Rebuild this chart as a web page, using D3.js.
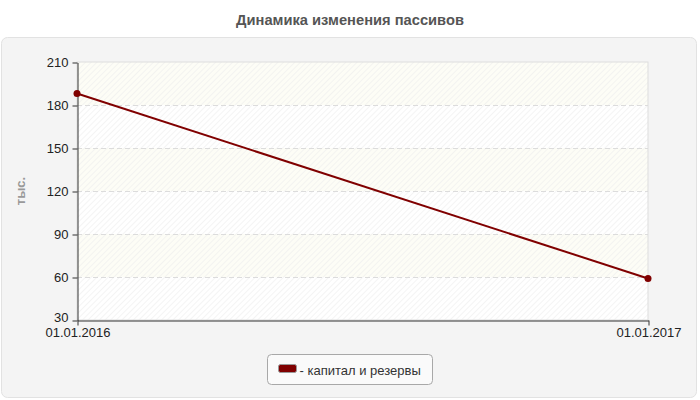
<!DOCTYPE html>
<html>
<head>
<meta charset="utf-8">
<script src="https://cdn.jsdelivr.net/npm/d3@7"></script>
<style>
  body { margin: 0; background: #fff; }
  svg { display: block; font-family: Arial, "Liberation Sans", sans-serif; }
</style>
</head>
<body>
<div class="chart"></div>
<script>
// chart data
var dates = ["01.01.2016", "01.01.2017"];
var capital = [188, 59];
var yTicks = [30, 60, 90, 120, 150, 180, 210];
var seriesName = "капитал и резервы";

var width = 700, height = 400;
var margin = { left: 77, right: 52, top: 62, bottom: 80 };

function drawGraph() {
    var svg = d3.select('.chart')
        .append('svg')
        .attr('width', width)
        .attr('height', height);

    // diagonal hatch for the plot background
    var defs = svg.append('defs');
    var pat = defs.append('pattern')
        .attr('id', 'hatch')
        .attr('width', 4).attr('height', 4)
        .attr('patternUnits', 'userSpaceOnUse')
        .attr('patternTransform', 'rotate(45)');
    pat.append('line')
        .attr('x1', 0).attr('y1', 0).attr('x2', 0).attr('y2', 4)
        .attr('stroke', '#ececec').attr('stroke-width', 1.2);

    // title
    svg.append('text')
        .attr('x', width / 2).attr('y', 25)
        .attr('text-anchor', 'middle')
        .style('font-size', '14.7px')
        .style('font-weight', 'bold')
        .style('fill', '#555')
        .text('Динамика изменения пассивов');

    // grey panel
    svg.append('rect')
        .attr('x', 1.5).attr('y', 37.5)
        .attr('width', 695).attr('height', 360)
        .attr('rx', 6)
        .attr('fill', '#f4f4f4')
        .attr('stroke', '#e2e2e2');

    var x = d3.scalePoint()
        .domain(dates)
        .range([margin.left, width - margin.right]);

    var y = d3.scaleLinear()
        .domain([30, 210])
        .range([height - margin.bottom, margin.top]);

    // alternating bands
    var bands = d3.pairs(yTicks);
    svg.selectAll('.band')
        .data(bands)
        .enter()
        .append('rect')
        .attr('x', margin.left)
        .attr('y', function(d) { return y(d[1]); })
        .attr('width', x.range()[1] - margin.left)
        .attr('height', function(d) { return y(d[0]) - y(d[1]); })
        .attr('fill', function(d, i) { return i % 2 ? '#fdfdf6' : '#ffffff'; });

    svg.append('rect')
        .attr('x', margin.left).attr('y', margin.top)
        .attr('width', x.range()[1] - margin.left)
        .attr('height', y(30) - y(210))
        .attr('fill', 'url(#hatch)')
        .attr('stroke', '#dddddd');

    // dashed grid lines
    svg.selectAll('.grid')
        .data(yTicks.slice(1, -1))
        .enter()
        .append('line')
        .attr('x1', margin.left).attr('x2', x.range()[1])
        .attr('y1', function(d) { return y(d) + 0.5; })
        .attr('y2', function(d) { return y(d) + 0.5; })
        .attr('stroke', '#dcdcdc')
        .attr('stroke-dasharray', '5,3');

    // y axis
    var yAxis = svg.append('g')
        .attr('transform', 'translate(' + (margin.left + 0.5) + ',0.5)')
        .call(d3.axisLeft(y).tickValues(yTicks).tickSize(5).tickSizeOuter(0).tickPadding(4));
    yAxis.selectAll('text').style('font-size', '13px').style('fill', '#222')
        .style('font-family', 'Arial, "Liberation Sans", sans-serif');
    yAxis.selectAll('.tick').filter(function(d) { return d === 30; })
        .select('text').attr('dy', '0.1em');
    yAxis.selectAll('line, path').attr('stroke', '#333');

    // x axis
    var xAxis = svg.append('g')
        .attr('transform', 'translate(0.5,' + (y(30) + 0.5) + ')')
        .call(d3.axisBottom(x).tickSize(5).tickSizeOuter(0).tickPadding(2));
    xAxis.selectAll('text').style('font-size', '13px').style('fill', '#222')
        .style('font-family', 'Arial, "Liberation Sans", sans-serif');
    xAxis.selectAll('line, path').attr('stroke', '#333');

    // y label
    svg.append('text')
        .attr('transform', 'translate(25,' + (y(120)) + ') rotate(-90)')
        .attr('text-anchor', 'middle')
        .style('font-size', '13px')
        .style('font-weight', 'bold')
        .style('fill', '#999')
        .text('тыс.');

    // the line
    var line = d3.line()
        .x(function(d, i) { return x(dates[i]); })
        .y(function(d) { return y(d); });

    svg.append('path')
        .datum(capital)
        .attr('d', line)
        .attr('fill', 'none')
        .attr('stroke', '#800000')
        .attr('stroke-width', 2);

    svg.selectAll('.dot')
        .data(capital)
        .enter()
        .append('circle')
        .attr('cx', function(d, i) { return x(dates[i]); })
        .attr('cy', function(d) { return y(d); })
        .attr('r', 3.5)
        .attr('fill', '#800000');

    // legend
    var legend = svg.append('g').attr('transform', 'translate(267.5,354.5)');
    legend.append('rect')
        .attr('width', 165).attr('height', 30)
        .attr('rx', 4)
        .attr('fill', '#fafafa')
        .attr('stroke', '#a8a8a8');
    legend.append('rect')
        .attr('x', 11).attr('y', 10)
        .attr('width', 18).attr('height', 8)
        .attr('rx', 2)
        .attr('fill', '#800000')
        .attr('stroke', '#999');
    legend.append('text')
        .attr('x', 32).attr('y', 20)
        .style('font-size', '13px')
        .style('fill', '#333')
        .text('- ' + seriesName);
}

drawGraph();
</script>
</body>
</html>
